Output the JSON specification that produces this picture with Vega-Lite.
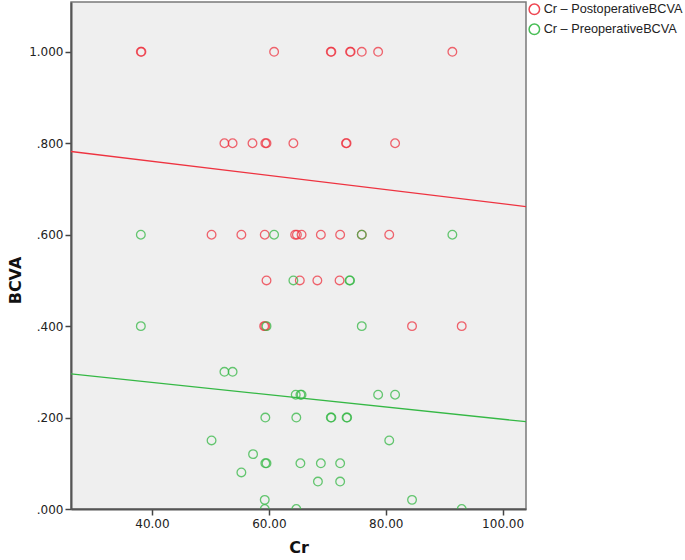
{
  "$schema": "https://vega.github.io/schema/vega-lite/v6.json",
  "width": 455,
  "height": 507,
  "autosize": {"type": "none"},
  "padding": {"left": 71, "top": 2, "right": 159, "bottom": 51},
  "background": "white",
  "config": {
    "font": "DejaVu Sans",
    "view": {"fill": "#efefef", "stroke": "#7a7a7a", "strokeWidth": 1.5},
    "axis": {
      "grid": false,
      "domainColor": "#555",
      "domainWidth": 2,
      "tickColor": "#444",
      "tickWidth": 1.5,
      "tickSize": 6,
      "labelColor": "#222",
      "labelFontSize": 12,
      "labelFont": "DejaVu Sans",
      "titleFont": "DejaVu Sans",
      "titleFontSize": 16,
      "titleFontWeight": "bold",
      "titleColor": "#111"
    }
  },
  "datasets": {
    "pts": [
      {"s": "Post", "Cr": 38.1, "BCVA": 1.0}, {"s": "Post", "Cr": 38.2, "BCVA": 1.0},
      {"s": "Post", "Cr": 60.9, "BCVA": 1.0}, {"s": "Post", "Cr": 70.6, "BCVA": 1.0},
      {"s": "Post", "Cr": 70.7, "BCVA": 1.0}, {"s": "Post", "Cr": 73.9, "BCVA": 1.0},
      {"s": "Post", "Cr": 74.0, "BCVA": 1.0}, {"s": "Post", "Cr": 75.9, "BCVA": 1.0},
      {"s": "Post", "Cr": 78.7, "BCVA": 1.0}, {"s": "Post", "Cr": 91.4, "BCVA": 1.0},
      {"s": "Post", "Cr": 52.4, "BCVA": 0.8}, {"s": "Post", "Cr": 53.8, "BCVA": 0.8},
      {"s": "Post", "Cr": 57.2, "BCVA": 0.8}, {"s": "Post", "Cr": 59.4, "BCVA": 0.8},
      {"s": "Post", "Cr": 59.6, "BCVA": 0.8}, {"s": "Post", "Cr": 64.2, "BCVA": 0.8},
      {"s": "Post", "Cr": 73.2, "BCVA": 0.8}, {"s": "Post", "Cr": 73.3, "BCVA": 0.8},
      {"s": "Post", "Cr": 81.6, "BCVA": 0.8},
      {"s": "Post", "Cr": 50.2, "BCVA": 0.6}, {"s": "Post", "Cr": 55.3, "BCVA": 0.6},
      {"s": "Post", "Cr": 59.3, "BCVA": 0.6}, {"s": "Post", "Cr": 64.5, "BCVA": 0.6},
      {"s": "Post", "Cr": 64.8, "BCVA": 0.6}, {"s": "Post", "Cr": 65.6, "BCVA": 0.6},
      {"s": "Post", "Cr": 68.9, "BCVA": 0.6}, {"s": "Post", "Cr": 72.2, "BCVA": 0.6},
      {"s": "Post", "Cr": 75.9, "BCVA": 0.6}, {"s": "Post", "Cr": 80.6, "BCVA": 0.6},
      {"s": "Post", "Cr": 59.6, "BCVA": 0.5}, {"s": "Post", "Cr": 65.3, "BCVA": 0.5},
      {"s": "Post", "Cr": 68.3, "BCVA": 0.5}, {"s": "Post", "Cr": 72.1, "BCVA": 0.5},
      {"s": "Post", "Cr": 59.2, "BCVA": 0.4}, {"s": "Post", "Cr": 59.4, "BCVA": 0.4},
      {"s": "Post", "Cr": 84.5, "BCVA": 0.4}, {"s": "Post", "Cr": 93.0, "BCVA": 0.4},
      {"s": "Pre", "Cr": 38.1, "BCVA": 0.6}, {"s": "Pre", "Cr": 60.9, "BCVA": 0.6},
      {"s": "Pre", "Cr": 75.9, "BCVA": 0.6}, {"s": "Pre", "Cr": 91.4, "BCVA": 0.6},
      {"s": "Pre", "Cr": 64.2, "BCVA": 0.5}, {"s": "Pre", "Cr": 73.8, "BCVA": 0.5},
      {"s": "Pre", "Cr": 73.9, "BCVA": 0.5},
      {"s": "Pre", "Cr": 38.1, "BCVA": 0.4}, {"s": "Pre", "Cr": 59.6, "BCVA": 0.4},
      {"s": "Pre", "Cr": 75.9, "BCVA": 0.4},
      {"s": "Pre", "Cr": 52.4, "BCVA": 0.3}, {"s": "Pre", "Cr": 53.8, "BCVA": 0.3},
      {"s": "Pre", "Cr": 64.6, "BCVA": 0.25}, {"s": "Pre", "Cr": 65.4, "BCVA": 0.25},
      {"s": "Pre", "Cr": 65.6, "BCVA": 0.25}, {"s": "Pre", "Cr": 78.7, "BCVA": 0.25},
      {"s": "Pre", "Cr": 81.6, "BCVA": 0.25},
      {"s": "Pre", "Cr": 59.4, "BCVA": 0.2}, {"s": "Pre", "Cr": 64.7, "BCVA": 0.2},
      {"s": "Pre", "Cr": 70.6, "BCVA": 0.2}, {"s": "Pre", "Cr": 70.7, "BCVA": 0.2},
      {"s": "Pre", "Cr": 73.3, "BCVA": 0.2}, {"s": "Pre", "Cr": 73.4, "BCVA": 0.2},
      {"s": "Pre", "Cr": 50.2, "BCVA": 0.15}, {"s": "Pre", "Cr": 80.6, "BCVA": 0.15},
      {"s": "Pre", "Cr": 57.3, "BCVA": 0.12},
      {"s": "Pre", "Cr": 59.4, "BCVA": 0.1}, {"s": "Pre", "Cr": 59.6, "BCVA": 0.1},
      {"s": "Pre", "Cr": 65.4, "BCVA": 0.1}, {"s": "Pre", "Cr": 68.9, "BCVA": 0.1},
      {"s": "Pre", "Cr": 72.2, "BCVA": 0.1},
      {"s": "Pre", "Cr": 55.3, "BCVA": 0.08},
      {"s": "Pre", "Cr": 68.4, "BCVA": 0.06}, {"s": "Pre", "Cr": 72.2, "BCVA": 0.06},
      {"s": "Pre", "Cr": 59.3, "BCVA": 0.02}, {"s": "Pre", "Cr": 84.5, "BCVA": 0.02},
      {"s": "Pre", "Cr": 59.3, "BCVA": 0.0}, {"s": "Pre", "Cr": 64.7, "BCVA": 0.0},
      {"s": "Pre", "Cr": 93.0, "BCVA": 0.0}
    ],
    "fit": [
      {"s": "Post", "Cr": 26.15, "BCVA": 0.782},
      {"s": "Post", "Cr": 104.0, "BCVA": 0.6615},
      {"s": "Pre", "Cr": 26.15, "BCVA": 0.2954},
      {"s": "Pre", "Cr": 104.0, "BCVA": 0.191}
    ]
  },
  "layer": [
    {
      "data": {"name": "pts"},
      "mark": {"type": "point", "shape": "circle", "filled": false, "size": 75, "strokeWidth": 1.3, "opacity": 0.75, "clip": true},
      "encoding": {
        "x": {
          "field": "Cr", "type": "quantitative",
          "scale": {"domain": [26.15, 104.0], "nice": false, "zero": false},
          "axis": {"values": [40, 60, 80, 100], "format": ".2f", "title": "Cr", "titlePadding": 10, "labelPadding": 3}
        },
        "y": {
          "field": "BCVA", "type": "quantitative",
          "scale": {"domain": [0, 1.109], "nice": false, "zero": false},
          "axis": {
            "values": [0, 0.2, 0.4, 0.6, 0.8, 1.0],
            "labelExpr": "datum.value >= 1 ? '1.000' : slice(format(datum.value, '.3f'), 1)",
            "title": "BCVA", "titleX": -56, "titleY": 278, "titleAngle": -90, "titleAlign": "center", "titleBaseline": "middle", "labelPadding": 2
          }
        },
        "color": {
          "field": "s", "type": "nominal",
          "scale": {"domain": ["Post", "Pre"], "range": ["#ee3340", "#35b845"]},
          "legend": {
            "title": null,
            "orient": "none",
            "legendX": 457,
            "legendY": 1,
            "symbolType": "circle",
            "symbolSize": 110,
            "symbolStrokeWidth": 1.5,
            "symbolFillColor": "transparent",
            "symbolOpacity": 0.9,
            "labelFont": "Liberation Sans",
            "labelFontSize": 12.7,
            "labelColor": "#222",
            "labelOffset": 3,
            "labelLimit": 200,
            "rowPadding": 3,
            "padding": 0,
            "labelExpr": "datum.label == 'Post' ? 'Cr – PostoperativeBCVA' : 'Cr – PreoperativeBCVA'"
          }
        }
      }
    },
    {
      "data": {"name": "fit"},
      "mark": {"type": "line", "strokeWidth": 1.3, "clip": true},
      "encoding": {
        "x": {"field": "Cr", "type": "quantitative"},
        "y": {"field": "BCVA", "type": "quantitative"},
        "color": {"field": "s", "type": "nominal", "legend": null}
      }
    }
  ]
}
